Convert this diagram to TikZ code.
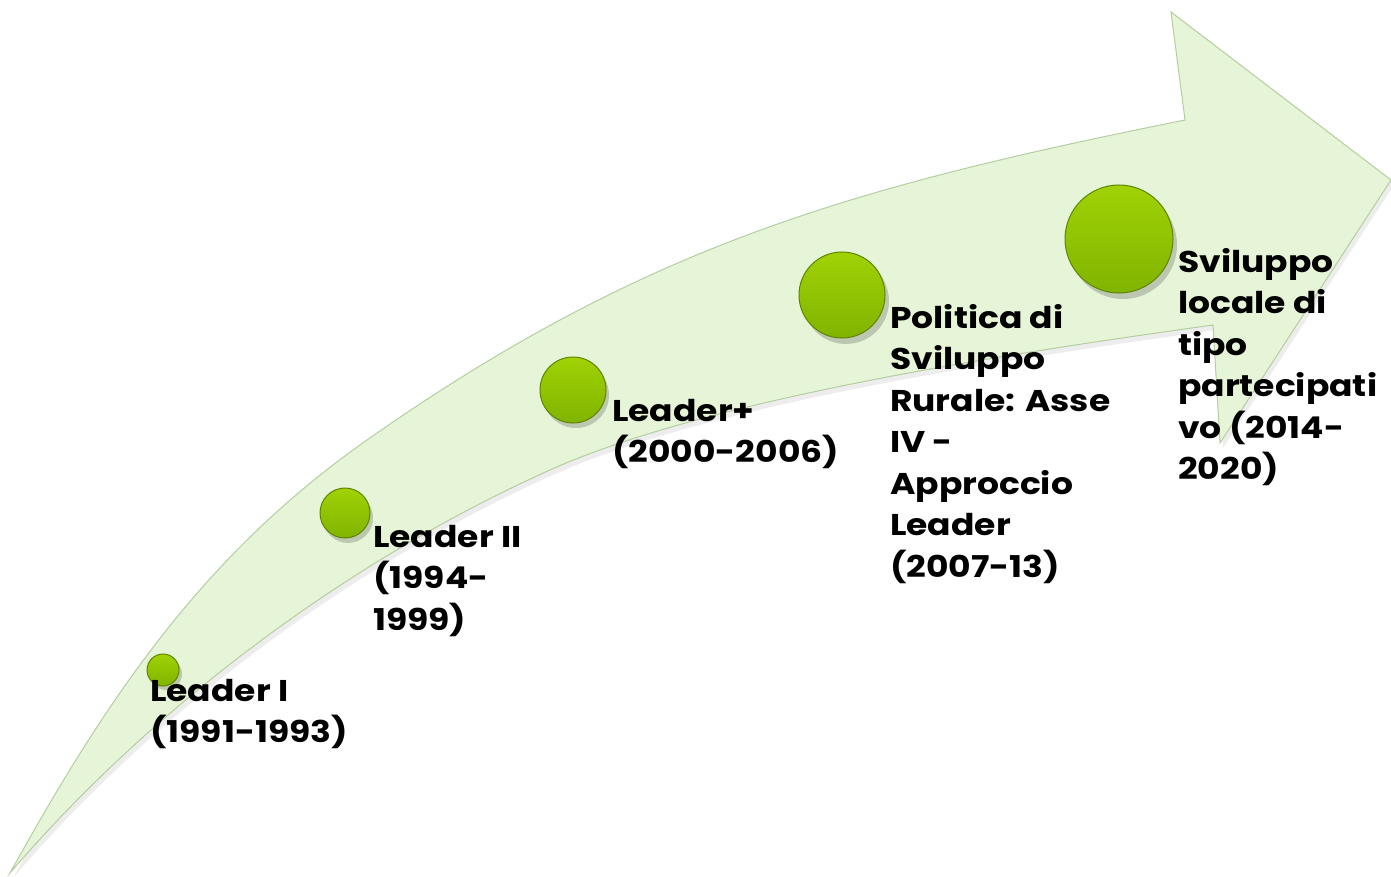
\documentclass[tikz,border=0pt]{standalone}
\usepackage{fontspec}
\setmainfont{Poppins}[BoldFont={Poppins Bold}, FakeStretch=1.15]
\definecolor{arrowfill}{RGB}{230,244,216}
\definecolor{arrowedge}{RGB}{180,206,160}
\definecolor{balltop}{RGB}{160,210,5}
\definecolor{ballbot}{RGB}{128,180,0}
\definecolor{balledge}{RGB}{96,132,0}
\tikzset{
  ball/.style={circle, inner sep=0pt, draw=balledge, line width=1pt,
    top color=balltop, bottom color=ballbot},
  ballshadow/.style={circle, inner sep=0pt, fill=black, opacity=0.18},
  lbl/.style={anchor=north west, inner sep=0pt, align=left, text=black,
    font=\bfseries\fontsize{30}{41.5}\selectfont}
}
\begin{document}
\begin{tikzpicture}[x=1pt,y=-1pt]
\useasboundingbox (0,0) rectangle (1391,877);
\def\arrowpath{(10,873) .. controls (107,698) and (203,555) .. (367,440)
  .. controls (645,245) and (852,187) .. (1185,120)
  -- (1171,12) -- (1391,180) -- (1220,443) -- (1213,325)
  .. controls (1035,350) and (714,396) .. (550,470)
  .. controls (349,560) and (153,706) .. (10,873) -- cycle}
% arrow shadow
\fill[black, opacity=0.07, shift={(3,5)}] \arrowpath;
% arrow
\filldraw[fill=arrowfill, draw=arrowedge, line width=1pt, line join=miter] \arrowpath;
% ball shadows
\node[ballshadow, minimum size=32pt] at (166,674) {};
\node[ballshadow, minimum size=50pt] at (348,518) {};
\node[ballshadow, minimum size=66pt] at (576,395) {};
\node[ballshadow, minimum size=86pt] at (846,301) {};
\node[ballshadow, minimum size=108pt] at (1123,245) {};
% balls
\node[ball, minimum size=32pt] (b1) at (163,670) {};
\node[ball, minimum size=50pt] (b2) at (345,513) {};
\node[ball, minimum size=66pt] (b3) at (573,390) {};
\node[ball, minimum size=86pt] (b4) at (842,295) {};
\node[ball, minimum size=108pt] (b5) at (1119,239) {};
% labels
\node[lbl] (t1) at (150,679) {Leader I\\(1991-1993)};
\node[lbl] (t2) at (373,525) {Leader II\\(1994-\\1999)};
\node[lbl] (t3) at (612,399) {Leader+\\(2000-2006)};
\node[lbl] (t4) at (890,304) {Politica di\\Sviluppo\\Rurale: Asse\\IV -\\Approccio\\Leader\\(2007-13)};
\node[lbl] (t5) at (1178,248) {Sviluppo\\locale di\\tipo\\partecipati\\vo (2014-\\2020)};
\end{tikzpicture}
\end{document}
